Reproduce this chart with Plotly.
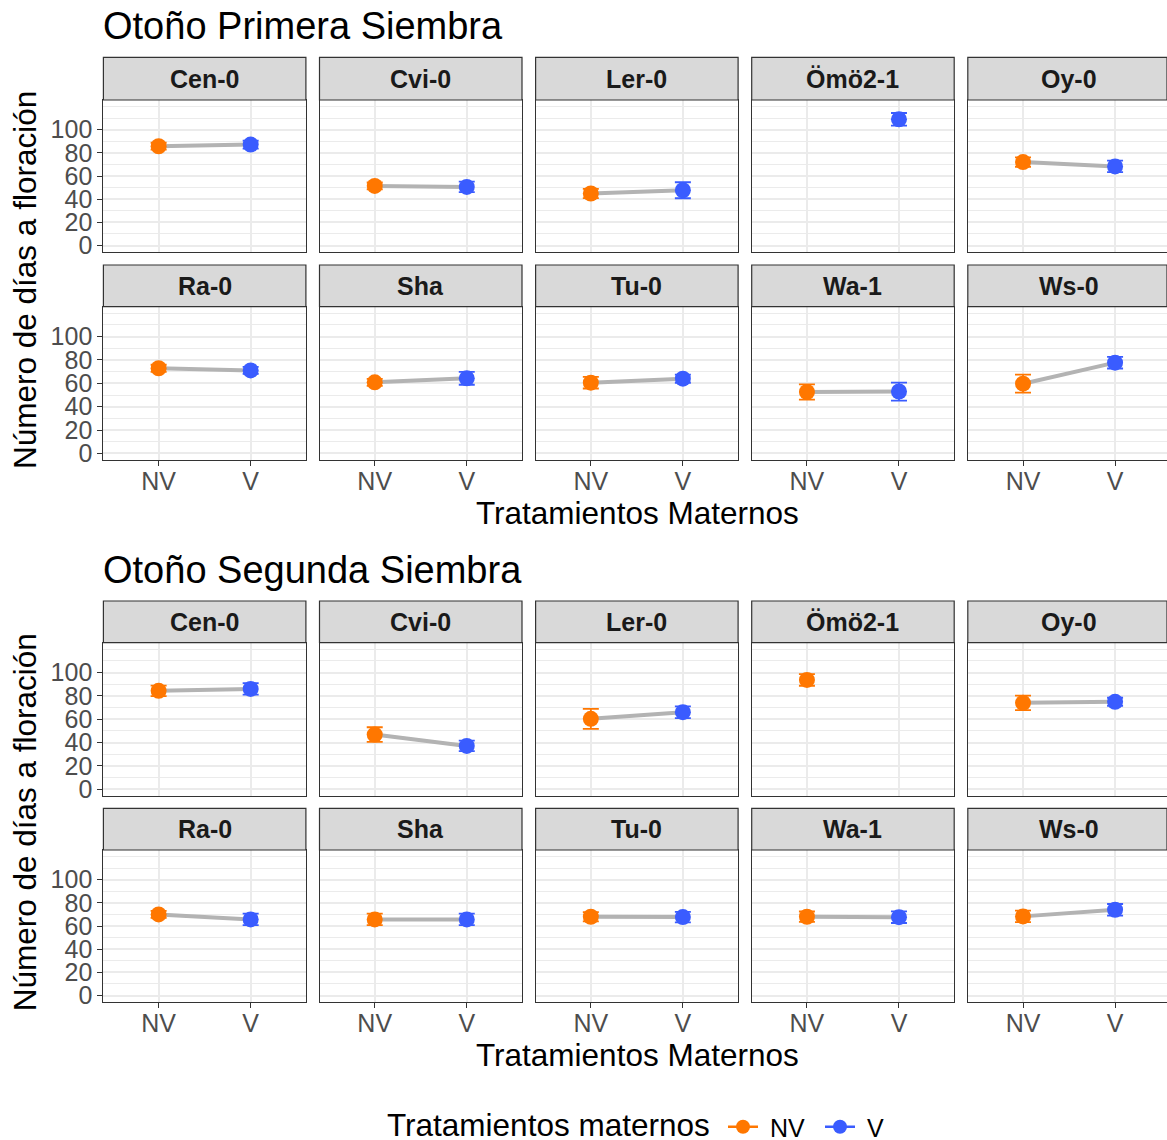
import plotly.graph_objects as go

# ---------------- data ----------------
accessions = ["Cen-0", "Cvi-0", "Ler-0", "Ömö2-1", "Oy-0",
              "Ra-0", "Sha", "Tu-0", "Wa-1", "Ws-0"]
treatments = ["NV", "V"]

# Otoño Primera Siembra
primera_nv = [85.7, 51.4, 44.9, None, 72.0, 72.9, 60.9, 60.6, 52.6, 59.7]
primera_nv_se = [3.0, 3.0, 4.0, None, 4.0, 3.0, 3.0, 5.0, 6.6, 7.7]
primera_v = [87.1, 50.6, 47.7, 108.9, 68.3, 71.1, 64.3, 64.0, 53.0, 77.7]
primera_v_se = [3.5, 4.5, 6.9, 5.5, 5.0, 3.0, 5.5, 3.5, 7.7, 5.0]

# Otoño Segunda Siembra
segunda_nv = [84.3, 46.8, 60.3, 93.7, 74.0, 70.0, 65.7, 68.0, 68.0, 68.3]
segunda_nv_se = [4.5, 6.3, 8.6, 5.0, 6.3, 3.0, 5.0, 4.0, 4.5, 5.0]
segunda_v = [86.0, 37.1, 66.0, None, 74.9, 65.7, 65.7, 67.7, 67.6, 74.0]
segunda_v_se = [5.0, 4.5, 5.0, None, 3.5, 5.0, 5.0, 4.5, 5.0, 5.0]

section_titles = ["Otoño Primera Siembra", "Otoño Segunda Siembra"]
y_tick_vals = [0, 20, 40, 60, 80, 100]
y_title = "Número de días a floración"
x_title = "Tratamientos Maternos"
legend_title = "Tratamientos maternos"

sections = [
    (primera_nv, primera_nv_se, primera_v, primera_v_se),
    (segunda_nv, segunda_nv_se, segunda_v, segunda_v_se),
]

# ---------------- style / layout ----------------
W, H = 1167, 1140
FONT = "Liberation Sans, Arial, sans-serif"
ORANGE = "#FF7700"
BLUE = "#3A5CFF"
LINE_GREY = "#B3B3B3"
GRID = "#EBEBEB"
BORDER = "#333333"
STRIP_FILL = "#D9D9D9"

col_left = [103.4 + i * 216.1 for i in range(5)]
panel_w = 202.5
# (panel top, panel bottom, strip top) for 4 rows of panels
rows_px = [(100.0, 252.0, 57.3), (306.7, 460.0, 265.0),
           (642.7, 795.7, 601.0), (850.0, 1002.0, 808.3)]
Y_RANGE = [-5.6, 125.6]


def fx(p):
    return p / W


def fy(p):
    return 1 - p / H


fig = go.Figure()
layout = dict(
    width=W, height=H,
    margin=dict(l=0, r=0, t=0, b=0, autoexpand=False),
    paper_bgcolor="white", plot_bgcolor="white",
    font=dict(family=FONT, color="#1A1A1A"),
    showlegend=True,
)
shapes = []
annotations = []

for s, (nv, nv_se, v, v_se) in enumerate(sections):
    for r in range(2):
        ptop, pbot, stop = rows_px[s * 2 + r]
        for c in range(5):
            a = r * 5 + c
            idx = s * 10 + r * 5 + c + 1
            xname = "xaxis" if idx == 1 else f"xaxis{idx}"
            yname = "yaxis" if idx == 1 else f"yaxis{idx}"
            xref = "x" if idx == 1 else f"x{idx}"
            yref = "y" if idx == 1 else f"y{idx}"
            x0 = col_left[c]
            x1 = min(x0 + panel_w, W)
            xr_end = -0.6 + 2.2 * (x1 - x0) / panel_w
            bottom_row = (r == 1)
            layout[xname] = dict(
                domain=[fx(x0), fx(x1)], anchor=yref,
                type="category", categoryorder="array", categoryarray=treatments,
                range=[-0.6, xr_end],
                showline=True, mirror=True, linecolor=BORDER, linewidth=1.2,
                showgrid=True, gridcolor=GRID, gridwidth=1.6,
                ticks="outside" if bottom_row else "", ticklen=5, tickwidth=1.2,
                tickcolor=BORDER,
                showticklabels=bottom_row,
                ticklabelstandoff=-6,
                tickfont=dict(family=FONT, size=25, color="#4D4D4D"),
                zeroline=False, fixedrange=True, automargin=False,
            )
            first_col = (c == 0)
            layout[yname] = dict(
                domain=[fy(pbot), fy(ptop)], anchor=xref,
                range=Y_RANGE,
                tickmode="array", tickvals=y_tick_vals,
                showline=True, mirror=True, linecolor=BORDER, linewidth=1.2,
                showgrid=True, gridcolor=GRID, gridwidth=1.6,
                minor=dict(tickmode="linear", tick0=0, dtick=10, showgrid=True,
                           gridcolor=GRID, gridwidth=1.3, ticks=""),
                ticks="outside" if first_col else "", ticklen=5, tickwidth=1.2,
                tickcolor=BORDER,
                showticklabels=first_col,
                tickfont=dict(family=FONT, size=25, color="#4D4D4D"),
                zeroline=False, fixedrange=True, automargin=False,
            )
            # strip
            shapes.append(dict(type="rect", xref="paper", yref="paper",
                               x0=fx(x0), x1=fx(x1), y0=fy(ptop), y1=fy(stop),
                               fillcolor=STRIP_FILL, line=dict(color=BORDER, width=1.2),
                               layer="above"))
            annotations.append(dict(text=f"<b>{accessions[a]}</b>", xref="paper", yref="paper",
                                    x=fx(x0 + panel_w / 2), y=fy((ptop + stop) / 2),
                                    xanchor="center", yanchor="middle", showarrow=False,
                                    font=dict(family=FONT, size=25, color="#1A1A1A")))
            # connecting line
            fig.add_trace(go.Scatter(
                x=treatments, y=[nv[a], v[a]], mode="lines",
                line=dict(color=LINE_GREY, width=4),
                xaxis=xref, yaxis=yref, showlegend=False, hoverinfo="skip"))
            # points with error bars
            for val, se, col, lab in ((nv[a], nv_se[a], ORANGE, "NV"),
                                      (v[a], v_se[a], BLUE, "V")):
                if val is None:
                    continue
                fig.add_trace(go.Scatter(
                    x=[lab], y=[val], mode="markers",
                    marker=dict(color=col, size=16, line=dict(width=0)),
                    error_y=dict(type="data", array=[se], color=col,
                                 thickness=1.8, width=8),
                    xaxis=xref, yaxis=yref, showlegend=False))

    # section title
    ttop = rows_px[s * 2][2]
    annotations.append(dict(text=section_titles[s], xref="paper", yref="paper",
                            x=fx(100.5), y=fy(ttop - 31), xanchor="left", yanchor="middle",
                            showarrow=False,
                            font=dict(family=FONT, size=38, color="black")))
    # y-axis title
    p_top = rows_px[s * 2][0]
    p_bot = rows_px[s * 2 + 1][1]
    annotations.append(dict(text=y_title, xref="paper", yref="paper",
                            x=fx(25), y=fy((p_top + p_bot) / 2), textangle=-90,
                            xanchor="center", yanchor="middle", showarrow=False,
                            font=dict(family=FONT, size=31.5, color="black")))
    # x-axis title
    annotations.append(dict(text=x_title, xref="paper", yref="paper",
                            x=fx(637), y=fy(p_bot + 53), xanchor="center", yanchor="middle",
                            showarrow=False,
                            font=dict(family=FONT, size=31.5, color="black")))

# legend title (drawn as text next to the legend items)
annotations.append(dict(text=legend_title, xref="paper", yref="paper",
                        x=fx(548), y=fy(1125), xanchor="center", yanchor="middle",
                        showarrow=False,
                        font=dict(family=FONT, size=31.5, color="black")))

# legend entries
for lab, col in (("NV", ORANGE), ("V", BLUE)):
    fig.add_trace(go.Scatter(x=[None], y=[None], mode="lines+markers",
                             name="\u00a0" + lab,
                             line=dict(color=col, width=2.5),
                             marker=dict(color=col, size=14),
                             xaxis="x", yaxis="y", showlegend=True))

layout["legend"] = dict(
    orientation="h", xref="container", yref="container",
    x=fx(723), xanchor="left", y=fy(1127), yanchor="middle",
    bgcolor="rgba(0,0,0,0)",
    font=dict(family=FONT, size=25, color="black"),
    itemwidth=30, entrywidth=52, entrywidthmode="pixels", tracegroupgap=0,
)
layout["shapes"] = shapes
layout["annotations"] = annotations
fig.update_layout(**layout)

fig.write_html("out.html")
